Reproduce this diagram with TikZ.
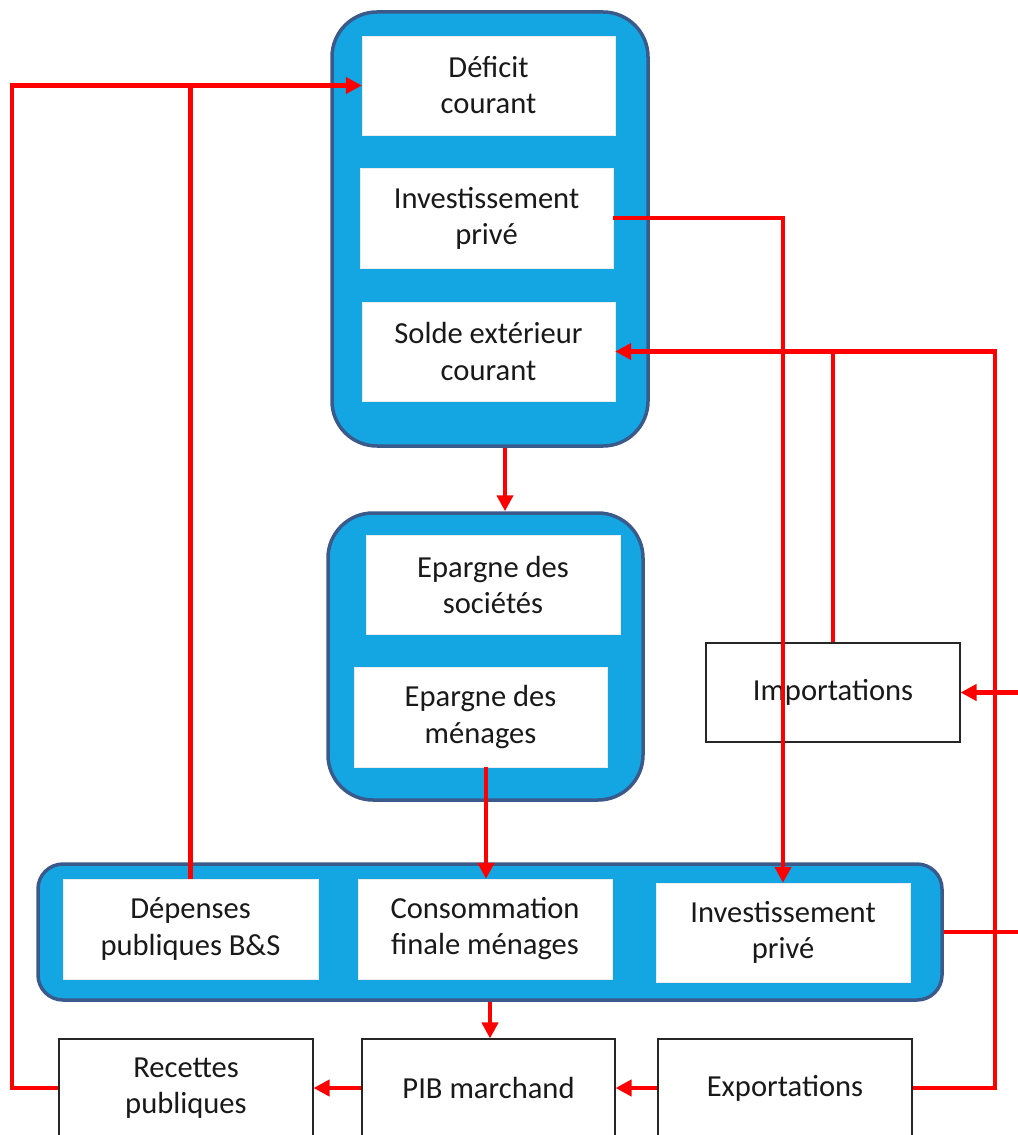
\documentclass[tikz,border=0pt]{standalone}
\usepackage{fontspec}
\setmainfont{Carlito}
\usetikzlibrary{arrows.meta,calc}
\definecolor{cfill}{HTML}{14A6E2}
\definecolor{cborder}{HTML}{3A5A8C}
\definecolor{cred}{HTML}{FF0000}
\begin{document}
\begin{tikzpicture}[x=0.02cm,y=-0.02cm,
  container/.style={draw=cborder,line width=0.07cm,fill=cfill,rounded corners=0.9cm,inner sep=0pt},
  inbox/.style={fill=white,draw=white!85!gray,line width=0.2pt,inner sep=0pt,align=center,
     font=\fontsize{17.4}{20.5}\selectfont,text=black!90},
  plainbox/.style={fill=white,draw=black!85,line width=0.6pt,inner sep=0pt,align=center,
     font=\fontsize{17.4}{20.5}\selectfont,text=black!90},
  wh/.style 2 args={minimum width=#1*0.02cm,minimum height=#2*0.02cm},
  conn/.style={draw=cred,line width=0.09cm},
  arr/.style={conn,-{Triangle[length=0.32cm,width=0.32cm]}}
]
\useasboundingbox (0,0) rectangle (1017,1135);
% containers
\node[container,wh={316}{434}] (top) at (490,229) {};
\node[container,wh={315}{287}] (mid) at (485.5,656.5) {};
\node[container,wh={904}{136},rounded corners=0.5cm] (bot) at (490,932) {};
% top boxes
\node[inbox,wh={253}{99}] (def) at (488.5,85.5) {Déficit\\courant};
\node[inbox,wh={253}{100}] (inv1) at (486.5,218) {Investissement\\privé};
\node[inbox,wh={253}{99}] (solde) at (488.5,351.5) {Solde extérieur\\courant};
% middle boxes
\node[inbox,wh={254}{99}] (eps) at (493,584.5) {Epargne des\\sociétés};
\node[inbox,wh={253}{100}] (epm) at (480.5,717) {Epargne des\\ménages};
% bottom container boxes
\node[inbox,wh={255}{100}] (dep) at (190.5,929) {Dépenses\\publiques B\&S};
\node[inbox,wh={254}{100}] (cons) at (485,929) {Consommation\\finale ménages};
\node[inbox,wh={254}{99}] (inv2) at (783,932.5) {Investissement\\privé};
% plain boxes
\node[plainbox,wh={254}{99}] (imp) at (833,692.5) {Importations};
\node[plainbox,wh={254}{98}] (rec) at (186,1088) {Recettes\\publiques};
\node[plainbox,wh={253}{98}] (pib) at (488.5,1088) {PIB marchand};
\node[plainbox,wh={254}{98}] (exp) at (785,1088) {Exportations};
% connectors
\coordinate (lx) at (12,500);
\coordinate (rx) at (995,700);
\coordinate (ex) at (1025,800);
\draw[arr] (rec.west) -| (lx) |- (def.west);
\draw[conn] (dep.north) -- (dep.north |- def.west);
\draw[arr] (inv1.east) -| (inv2.north);
\draw[arr] (exp.east) -| (rx) |- (solde.east);
\draw[conn] (imp.north) -- (imp.north |- solde.east);
\draw[arr] (bot.east) -| (ex) |- (imp.east);
\draw[arr] ([xshift=0.3cm]top.south) -- ([xshift=0.3cm]top.south |- mid.north);
\draw[arr] ([xshift=0.11cm]epm.south) -- ([xshift=0.11cm]epm.south |- cons.north);
\draw[arr] (bot.south) -- (bot.south |- pib.north);
\draw[arr] (pib.west) -- (rec.east);
\draw[arr] (exp.west) -- (pib.east);
\end{tikzpicture}
\end{document}
